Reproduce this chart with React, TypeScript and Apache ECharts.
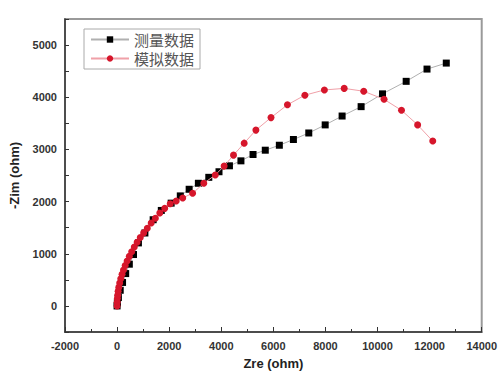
import React, { useEffect, useRef } from "react";
import * as echarts from "echarts";

const measuredName = "测量数据";
const simulatedName = "模拟数据";

const measuredZre = [0, 10, 50, 120, 210, 330, 470, 630, 819, 1068, 1385, 1698, 2076, 2427, 2767, 3121, 3521, 3913, 4314, 4755, 5220, 5690, 6230, 6770, 7360, 7990, 8640, 9370, 10190, 11100, 11900, 12640];
const measuredZim = [0, 60, 160, 300, 450, 620, 800, 985, 1208, 1398, 1652, 1830, 1970, 2109, 2236, 2351, 2465, 2572, 2686, 2781, 2903, 2985, 3080, 3190, 3315, 3470, 3640, 3820, 4065, 4305, 4540, 4655];

const simulatedZre = [0, 3, 10, 22, 40, 65, 100, 140, 190, 245, 310, 385, 470, 560, 660, 770, 890, 1020, 1160, 1310, 1470, 1640, 1830, 2040, 2270, 2520, 2900, 3330, 3770, 4110, 4470, 4880, 5330, 5910, 6540, 7210, 7960, 8720, 9470, 10250, 10920, 11540, 12120];
const simulatedZim = [0, 70, 140, 205, 280, 355, 440, 520, 605, 690, 775, 860, 950, 1040, 1130, 1220, 1310, 1400, 1490, 1590, 1680, 1780, 1870, 1960, 2010, 2070, 2160, 2350, 2510, 2680, 2890, 3120, 3370, 3610, 3855, 4040, 4140, 4170, 4115, 3960, 3750, 3470, 3160];

const xMin = -2000;
const xMax = 14000;
const xStep = 2000;
const yMin = -500;
const yMax = 5500;
const yStep = 500;

export default function App() {
  const ref = useRef<HTMLDivElement>(null);
  useEffect(() => {
    if (!ref.current) return;
    const chart = echarts.init(ref.current, null, { renderer: "svg" });
    const tickLabel = {
      color: "#333",
      fontFamily: "Arial, 'Liberation Sans', sans-serif",
      fontWeight: "bold" as const,
      fontSize: 11,
    };
    const nameStyle = {
      color: "#222",
      fontFamily: "Arial, 'Liberation Sans', sans-serif",
      fontWeight: "bold" as const,
      fontSize: 13,
    };
    chart.setOption({
      animation: false,
      backgroundColor: "#ffffff",
      grid: {
        left: 63,
        right: 14,
        top: 19,
        bottom: 42,
        show: true,
        borderColor: "#9a9a9a",
        borderWidth: 2,
        backgroundColor: "transparent",
      },
      legend: {
        show: true,
        left: 84,
        top: 29,
        orient: "vertical",
        itemWidth: 38,
        itemHeight: 8,
        itemGap: 4,
        padding: [3, 6, 3, 6],
        borderColor: "#aaaaaa",
        borderWidth: 1,
        textStyle: {
          fontFamily: "'Noto Sans CJK SC', sans-serif",
          fontSize: 15,
          color: "#555",
        },
        data: [measuredName, simulatedName],
      },
      xAxis: {
        type: "value",
        min: xMin,
        max: xMax,
        interval: xStep,
        name: "Zre (ohm)",
        nameLocation: "middle",
        nameGap: 25,
        nameTextStyle: nameStyle,
        axisLine: { show: true, onZero: false, lineStyle: { color: "#333", width: 1.5 } },
        axisTick: { show: true, inside: true, length: 5, lineStyle: { color: "#333" } },
        minorTick: { show: true, splitNumber: 2, length: 3, lineStyle: { color: "#333" } },
        axisLabel: { ...tickLabel, margin: 8, formatter: (v: number) => String(v) },
        splitLine: { show: false },
      },
      yAxis: {
        type: "value",
        min: yMin,
        max: yMax,
        interval: yStep,
        name: "-Zim (ohm)",
        nameLocation: "middle",
        nameGap: 44,
        nameTextStyle: nameStyle,
        axisLine: { show: true, onZero: false, lineStyle: { color: "#333", width: 1.5 } },
        axisTick: { show: true, inside: true, length: 4, lineStyle: { color: "#333" } },
        axisLabel: {
          ...tickLabel,
          margin: 8,
          formatter: (v: number) => (v % 1000 === 0 ? String(v) : ""),
        },
        splitLine: { show: false },
      },
      series: [
        {
          name: measuredName,
          type: "line",
          data: measuredZre.map((x, i) => [x, measuredZim[i]]),
          symbol: "rect",
          symbolSize: 7,
          itemStyle: { color: "#000" },
          lineStyle: { color: "#b0b0b0", width: 1 },
          z: 3,
        },
        {
          name: simulatedName,
          type: "line",
          data: simulatedZre.map((x, i) => [x, simulatedZim[i]]),
          symbol: "circle",
          symbolSize: 7,
          itemStyle: { color: "#d6162b" },
          lineStyle: { color: "#f0a0a8", width: 1 },
          z: 4,
        },
      ],
    });
    return () => chart.dispose();
  }, []);
  return (
    <div
      style={{
        position: "absolute",
        left: 0,
        top: 0,
        width: 500,
        height: 375,
        boxSizing: "border-box",
        border: "2px solid #111",
        background: "#fff",
      }}
    >
      <div ref={ref} style={{ position: "absolute", left: -2, top: -2, width: 500, height: 375 }} />
    </div>
  );
}
